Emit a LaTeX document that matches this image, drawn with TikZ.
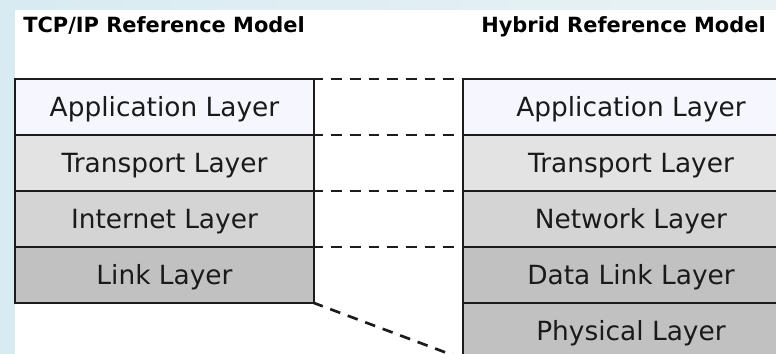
\documentclass[tikz,border=0pt]{standalone}
\usepackage{fontspec}
\setmainfont{DejaVu Sans}
\begin{document}
\begin{tikzpicture}[x=0.75pt,y=-0.75pt,
  layer/.style={draw=edge, line width=1.5pt, outer sep=0pt, inner sep=0pt,
    minimum height={56*0.75pt}, text height=14.4pt, text depth=0pt,
    font=\fontsize{19.8}{23}\selectfont, text=ink},
  leftcol/.style={layer, minimum width={299*0.75pt}},
  rightcol/.style={layer, minimum width={336*0.75pt}},
  title/.style={font=\bfseries\fontsize{15.7}{18}\selectfont, inner sep=0pt, text=black},
  conn/.style={draw=edge, line width=2pt, dash pattern=on 8pt off 6pt, dash phase=1pt, shorten >=6.75pt}]
\definecolor{edge}{HTML}{1C1C1C}
\definecolor{ink}{HTML}{1A1A1A}
\definecolor{appfill}{HTML}{F6F7FE}
\definecolor{transfill}{HTML}{E3E3E3}
\definecolor{netfill}{HTML}{D4D4D4}
\definecolor{linkfill}{HTML}{C1C1C1}
\definecolor{frameL}{RGB}{216,235,242}
\definecolor{frameR}{RGB}{232,242,245}

\clip (0,0) rectangle (776,354);
% page frame and white canvas
\shade[left color=frameL, right color=frameR] (0,0) rectangle (776,354);
\fill[white] (15,10) rectangle (776,354);

% titles
\node[title, anchor=base west] (tl) at (23,32) {TCP/IP Reference Model};
\node[title, anchor=base east] (tr) at (766,32) {Hybrid Reference Model};

% TCP/IP stack
\node[leftcol, fill=appfill]   (l1) at (164.5,107) {Application Layer};
\node[leftcol, fill=transfill] (l2) at (164.5,163) {Transport Layer};
\node[leftcol, fill=netfill]   (l3) at (164.5,219) {Internet Layer};
\node[leftcol, fill=linkfill]  (l4) at (164.5,275) {Link Layer};

% hybrid stack
\node[rightcol, fill=appfill]   (r1) at (631,107) {Application Layer};
\node[rightcol, fill=transfill] (r2) at (631,163) {Transport Layer};
\node[rightcol, fill=netfill]   (r3) at (631,219) {Network Layer};
\node[rightcol, fill=linkfill]  (r4) at (631,275) {Data Link Layer};
\node[rightcol, fill=linkfill]  (r5) at (631,331) {Physical Layer};

% layer correspondences
\draw[conn] (l1.north east) -- (r1.north west);
\draw[conn] (l2.north east) -- (r2.north west);
\draw[conn] (l3.north east) -- (r3.north west);
\draw[conn] (l4.north east) -- (r4.north west);
\draw[conn] (l4.south east) -- (r5.south west);
\end{tikzpicture}
\end{document}
